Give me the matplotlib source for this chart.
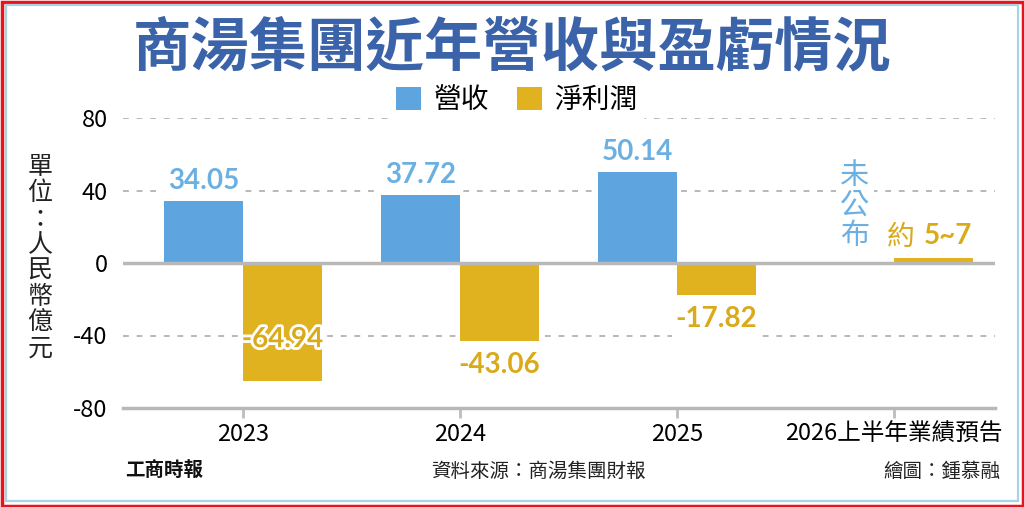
import matplotlib
matplotlib.use("Agg")
import matplotlib.pyplot as plt
from matplotlib.patches import Patch, Rectangle
import matplotlib.patheffects as pe
import numpy as np

plt.rcParams['font.family'] = ['Noto Sans CJK TC', 'DejaVu Sans']

# ---- data ----
categories = ["2023", "2024", "2025", "2026上半年業績預告"]
revenue = [34.05, 37.72, 50.14, None]          # 營收
net_profit = [-64.94, -43.06, -17.82, 3.0]      # 淨利潤 (2026 bar drawn small, labelled 約5~7)
revenue_labels = ["34.05", "37.72", "50.14", "未公布"]
profit_labels = ["-64.94", "-43.06", "-17.82", "約 5~7"]
yticks = [80, 40, 0, -40, -80]
series_names = ["營收", "淨利潤"]
title = "商湯集團近年營收與盈虧情況"
unit_label = "單位：人民幣億元"
source_text = "資料來源：商湯集團財報"
credit_text = "繪圖：鍾慕融"
logo_text = "工商時報"

# ---- style ----
c_rev = "#5ea4de"
c_pro = "#e1b21f"
c_rev_lab = "#6cb0e2"
c_pro_lab = "#d9aa1a"
c_title = "#3b63a9"
c_grid = "#b8b8b8"

W, H = 1024, 507
fig = plt.figure(figsize=(W / 100, H / 100), dpi=100)
fig.patch.set_facecolor("white")

ax = fig.add_axes([123 / W, 1 - 408 / H, (995 - 123) / W, (408 - 118) / H])
ax.set_facecolor("white")

x = np.arange(len(categories))
bw = 0.364
off = 0.182

rev_vals = [v if v is not None else 0 for v in revenue]
rev_mask = [v is not None for v in revenue]
for i in x:
    if rev_mask[i]:
        ax.bar(i - off, rev_vals[i], bw, color=c_rev, zorder=3, linewidth=0)
ax.bar(x + off, net_profit, bw, color=c_pro, zorder=3, linewidth=0)

# grid lines
for yv in [80, 40, -40]:
    ax.axhline(yv, color=c_grid, lw=1.4, ls=(0, (3.0, 4.0)), zorder=1)
ax.axhline(0, color="#b8b8b8", lw=2.5, zorder=4)

ax.set_ylim(-80, 80)
ax.set_xlim(-0.553, 3.465)
ax.set_yticks(yticks)
ax.set_yticklabels([str(t) for t in yticks], fontsize=17)
ax.tick_params(axis='y', length=0, pad=11)
ax.set_xticks(x)
ax.set_xticklabels(categories, fontsize=17)
ax.tick_params(axis='x', length=7, width=2, color="#bdbdbd", pad=4)
for s in ["left", "right", "top"]:
    ax.spines[s].set_visible(False)
ax.spines["bottom"].set_color("#b8b8b8")
ax.spines["bottom"].set_linewidth(2.5)
ax.spines["bottom"].set_zorder(4)

num_font = dict(family=['Lato', 'DejaVu Sans'], fontweight='bold', fontsize=20)
bbox_w = dict(boxstyle="square,pad=0.15", fc="white", ec="none")

# revenue labels
for i in x:
    if rev_mask[i]:
        ax.annotate(revenue_labels[i], (i - off, rev_vals[i]), xytext=(0, 5),
                    textcoords="offset points", ha="center", va="bottom",
                    color=c_rev_lab, bbox=bbox_w, zorder=5, **num_font)
    else:
        ax.text(i - off, 31.5, "\n".join(revenue_labels[i]), ha="center", va="center",
                color=c_rev_lab, fontsize=21, fontweight="medium", linespacing=1.0,
                bbox=bbox_w, zorder=5)

# profit labels
for i in x:
    v = net_profit[i]
    if v < 0:
        if v - 30 < -80:
            ax.text(i + off, -42, profit_labels[i], ha="center", va="center",
                    color=c_pro_lab, zorder=6,
                    path_effects=[pe.withStroke(linewidth=4, foreground="white")],
                    **num_font)
        else:
            ax.annotate(profit_labels[i], (i + off, v), xytext=(0, -8),
                        textcoords="offset points", ha="center", va="top",
                        color=c_pro_lab, bbox=bbox_w, zorder=5, **num_font)
    else:
        pre, num = profit_labels[i].split(" ")
        ax.annotate(pre, (i + off, v), xytext=(-24, 4),
                    textcoords="offset points", ha="center", va="bottom",
                    color=c_pro_lab, fontsize=20, fontweight="medium", zorder=5)
        ax.annotate(num, (i + off, v), xytext=(10, 6),
                    textcoords="offset points", ha="center", va="bottom",
                    color=c_pro_lab, zorder=5, **num_font)

# title
fig.text(512 / W, 1 - 48 / H, title, ha="center", va="center", fontsize=42,
         fontweight="bold", color=c_title)

# legend
handles = [Patch(facecolor=c_rev, edgecolor="none"), Patch(facecolor=c_pro, edgecolor="none")]
leg = fig.legend(handles, series_names, ncol=2, loc="center",
                 bbox_to_anchor=(517 / W, 1 - 100 / H), fontsize=20,
                 handlelength=0.9, handleheight=0.9, handletextpad=0.45,
                 columnspacing=1.0, frameon=True, borderpad=0.25)
leg.get_frame().set_facecolor("white")
leg.get_frame().set_edgecolor("none")
leg.get_frame().set_alpha(1)

# unit label
fig.text(40 / W, 1 - 258 / H, "\n".join(unit_label), ha="center", va="center",
         fontsize=18, linespacing=1.0, color="#222222")

# footer
fig.text(125 / W, 1 - 471 / H, logo_text, ha="left", va="center", fontsize=14,
         fontweight="black", color="#111111")
fig.text(538 / W, 1 - 471 / H, source_text, ha="center", va="center", fontsize=14,
         color="#222222")
fig.text(1000 / W, 1 - 471 / H, credit_text, ha="right", va="center", fontsize=14,
         color="#222222")

# borders
fig.patches.append(Rectangle((1.5 / W, 1.5 / H), 1 - 3 / W, 1 - 3 / H, transform=fig.transFigure,
                             fill=False, ec="#e8141b", lw=2.5, zorder=10))
fig.patches.append(Rectangle((6 / W, 6 / H), 1 - 12 / W, 1 - 11 / H, transform=fig.transFigure,
                             fill=False, ec="#a9d3e3", lw=1.6, zorder=10))

fig.savefig("out.png", dpi=100, facecolor="white")
